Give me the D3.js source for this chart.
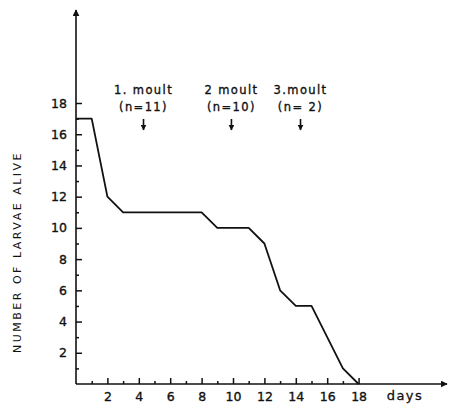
<!DOCTYPE html>
<meta charset="utf-8">
<style>
body{margin:0;background:#fff;}
text{font-family:"DejaVu Sans",sans-serif;fill:#111;}
.axis path,.axis line{stroke:#111;stroke-width:1.5px;}
.axis text{font-size:12.5px;stroke:#111;stroke-width:0.35px;}
.note{font-size:11.5px;text-anchor:middle;letter-spacing:1.4px;stroke:#111;stroke-width:0.35px;}
</style>
<body>
<script src="https://d3js.org/d3.v7.min.js"></script>
<script>

var days  =[0,1,2,3,8,9,11,12,13,14,15,17,18];
var alive =[17,17,12,11,11,10,10,9,6,5,5,1,0];

var majorTicks=[2,4,6,8,10,12,14,16,18];
var minorTicks=[1,3,5,7,9,11,13,15,17];

var moultDay  =[4.3,9.9,14.3];
var moultName =["1. moult","2  moult","3.moult"];
var moultN    =["(n=11)","(n=10)","(n= 2)"];

var W=450,H=404;
var svg=d3.select("body").append("svg").attr("width",W).attr("height",H);

var x=d3.scaleLinear().domain([0,18]).range([76,358.6]);
var y=d3.scaleLinear().domain([0,18]).range([384,103]);

var defs=svg.append("defs");
function arrow(id,size){
	defs.append("marker").attr("id",id)
		.attr("viewBox","0 0 10 10").attr("refX",9).attr("refY",5)
		.attr("markerWidth",size).attr("markerHeight",size).attr("markerUnits","userSpaceOnUse")
		.attr("orient","auto")
	  .append("path").attr("d","M0,0L10,5L0,10z").attr("fill","#111");
}
arrow("arr",7);
arrow("arr2",6);

svg.append("line").attr("x1",x(0)).attr("x2",447).attr("y1",y(0)).attr("y2",y(0))
	.attr("stroke","#111").attr("stroke-width",1.6).attr("marker-end","url(#arr)");
svg.append("line").attr("x1",x(0)).attr("x2",x(0)).attr("y1",y(0)).attr("y2",10)
	.attr("stroke","#111").attr("stroke-width",1.6).attr("marker-end","url(#arr)");

// y axis, ticks point inward
svg.append("g").attr("class","axis").attr("transform","translate("+x(0)+",0)")
	.call(d3.axisLeft(y).tickValues(majorTicks).tickSizeInner(-6).tickSizeOuter(0).tickPadding(9))
	.call(g=>g.select(".domain").remove());
svg.append("g").attr("class","axis").attr("transform","translate("+x(0)+",0)")
	.call(d3.axisLeft(y).tickValues(minorTicks).tickSizeInner(-3).tickSizeOuter(0).tickFormat(""))
	.call(g=>g.select(".domain").remove());

svg.append("g").attr("class","axis").attr("transform","translate(0,"+y(0)+")")
	.call(d3.axisBottom(x).tickValues(majorTicks).tickSizeInner(-6).tickSizeOuter(0).tickPadding(8))
	.call(g=>g.select(".domain").remove());
svg.append("g").attr("class","axis").attr("transform","translate(0,"+y(0)+")")
	.call(d3.axisBottom(x).tickValues(minorTicks).tickSizeInner(-3).tickSizeOuter(0).tickFormat(""))
	.call(g=>g.select(".domain").remove());

svg.append("text").attr("x",405).attr("y",400).attr("text-anchor","middle")
	.style("font-size","13px").style("letter-spacing","1.5px")
	.style("stroke","#111").style("stroke-width","0.3px").text("days");

svg.append("text").attr("transform","translate(21,252) rotate(-90)")
	.attr("text-anchor","middle").style("font-size","11px").style("letter-spacing","2.5px")
	.text("NUMBER OF LARVAE ALIVE");

// survival line
svg.append("path").datum(days.map((d,i)=>[d,alive[i]]))
	.attr("fill","none").attr("stroke","#111").attr("stroke-width",1.8)
	.attr("stroke-linejoin","round")
	.attr("d",d3.line().x(d=>x(d[0])).y(d=>y(d[1])));

// moult notes
var m=svg.selectAll(".moult").data(moultDay).enter().append("g")
	.attr("transform",d=>"translate("+x(d)+",0)");
m.append("text").attr("class","note").attr("y",94).text((d,i)=>moultName[i]);
m.append("text").attr("class","note").attr("y",111).text((d,i)=>moultN[i]);
m.append("line").attr("y1",119).attr("y2",130).attr("stroke","#111").attr("stroke-width",1.6)
	.attr("marker-end","url(#arr2)");

</script>
</body>
